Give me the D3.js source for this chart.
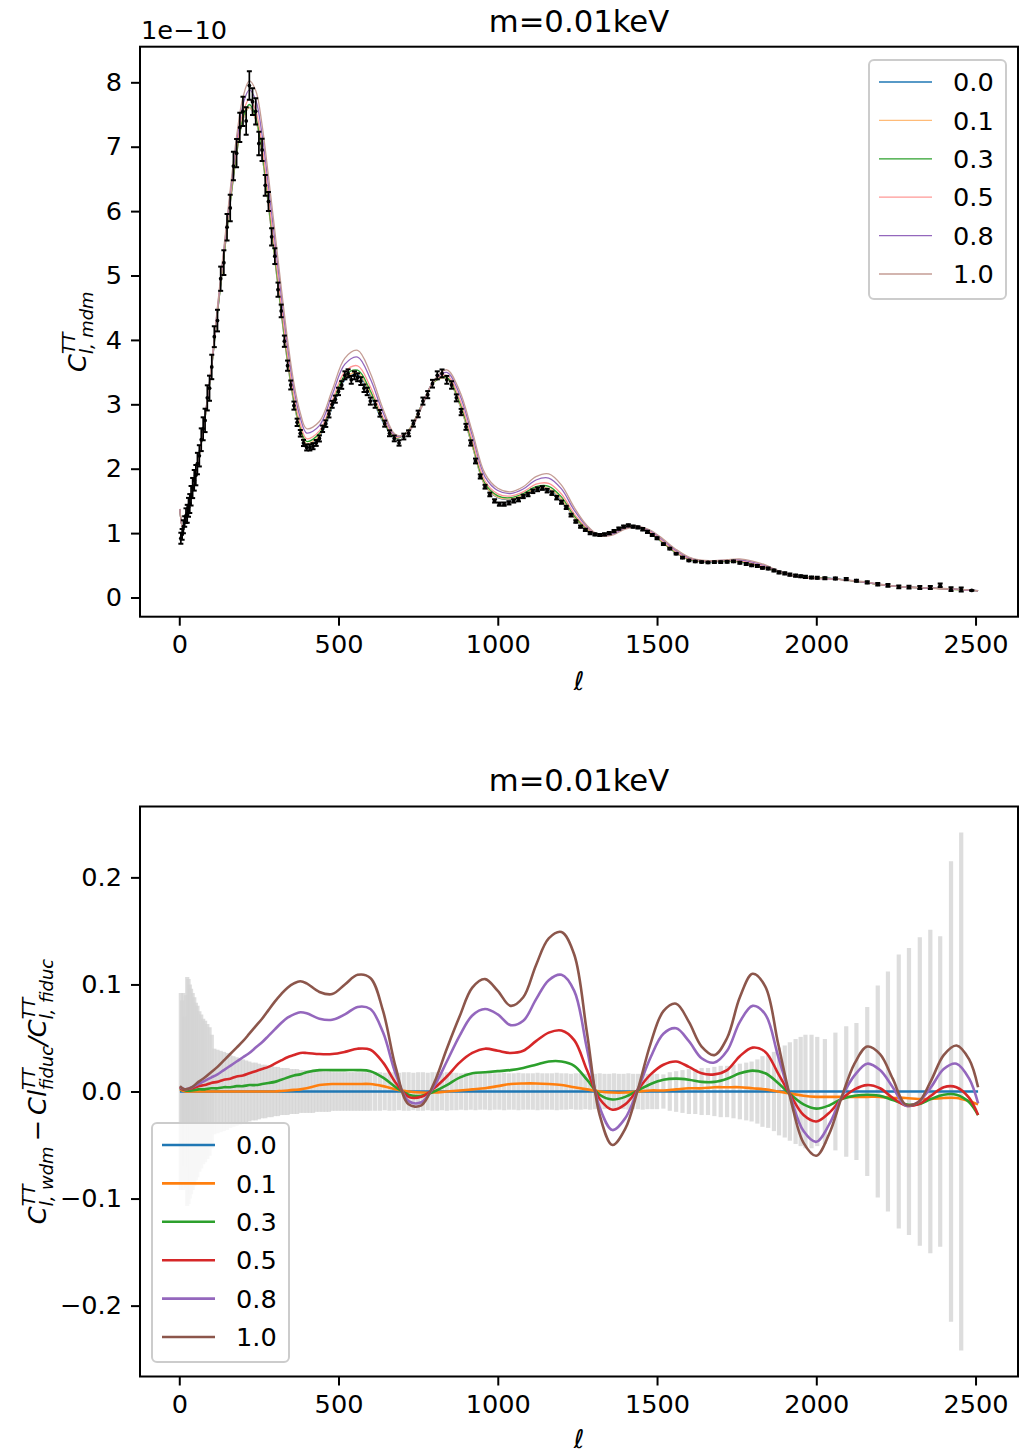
<!DOCTYPE html>
<html>
<head>
<meta charset="utf-8">
<script src="https://cdn.jsdelivr.net/npm/d3@7"></script>
<style>
body{margin:0;background:#fff;}
svg text{font-family:"DejaVu Sans",sans-serif;fill:#000;}
</style>
</head>
<body>
<div id="chart"></div>
<script>
// multipole grid for the model curves
var ells=[2,10,20,40,60,80,100,120,140,160,180,200,220,240,260,280,300,320,340,360,380,400,
  440,480,520,560,600,640,680,720,760,800,840,880,920,960,1000,1040,1080,1120,1160,1200,
  1240,1280,1320,1360,1400,1440,1480,1520,1560,1600,1640,1680,1720,1760,1800,1840,1880,1920,1960,2000,
  2040,2080,2120,2160,2200,2240,2280,2320,2360,2400,2440,2480,2508];

// fiducial C_l^TT (units of 1e-10)
var baseCl=[1.37,1.09,1.25,1.62,2.12,2.75,3.50,4.42,5.28,6.12,6.88,7.42,7.61,7.42,6.87,6.08,5.25,4.42,3.65,3.02,2.60,2.38,
  2.50,2.95,3.38,3.46,3.15,2.72,2.47,2.60,2.98,3.35,3.40,3.00,2.35,1.74,1.55,1.52,1.58,1.68,1.68,1.52,
  1.24,1.06,0.98,1.02,1.10,1.10,1.00,0.84,0.69,0.59,0.555,0.555,0.56,0.55,0.51,0.46,0.40,0.35,0.32,0.31,
  0.30,0.28,0.255,0.23,0.20,0.18,0.165,0.155,0.145,0.135,0.125,0.115,0.105];

// relative difference to fiducial, one list per fraction
var ratio00=[0,0,0,0,0,0,0,0,0,0,0,0,0,0,0,0,0,0,0,0,0,0,
  0,0,0,0,0,0,0,0,0,0,0,0,0,0,0,0,0,0,0,0,
  0,0,0,0,0,0,0,0,0,0,0,0,0,0,0,0,0,0,0,0,
  0,0,0,0,0,0,0,0,0,0,0,0,0];
var ratio01=[0.002,0.001,0,0,0,0,0,0,0,0,0,0,0,0,0,0,0,0.0005,0.001,0.0015,0.002,0.003,
  0.006,0.007,0.007,0.007,0.007,0.005,0.002,0.000,-0.001,-0.001,0.000,0.001,0.002,0.003,0.005,0.007,0.0075,0.0075,0.007,0.006,
  0.004,0.002,0.000,-0.001,-0.001,0.000,0.001,0.001,0.002,0.003,0.003,0.004,0.004,0.004,0.003,0.002,0.000,-0.002,-0.004,-0.005,
  -0.005,-0.005,-0.005,-0.005,-0.005,-0.006,-0.006,-0.007,-0.007,-0.006,-0.006,-0.009,-0.012];
var ratio03=[0.003,0.002,0.001,0.001,0.002,0.002,0.003,0.003,0.004,0.004,0.005,0.005,0.006,0.006,0.007,0.008,0.009,0.011,0.013,0.015,0.016,0.018,
  0.020,0.020,0.020,0.020,0.019,0.013,0.004,-0.003,-0.004,0.000,0.006,0.013,0.017,0.018,0.019,0.020,0.022,0.025,0.028,0.028,
  0.024,0.011,-0.003,-0.0075,-0.005,0.001,0.007,0.011,0.012,0.011,0.009,0.009,0.012,0.017,0.0195,0.017,0.008,-0.003,-0.012,-0.016,
  -0.013,-0.007,-0.004,-0.003,-0.004,-0.008,-0.012,-0.012,-0.007,-0.003,-0.003,-0.010,-0.022];
var ratio05=[0.004,0.002,0.002,0.003,0.005,0.006,0.008,0.009,0.011,0.012,0.014,0.015,0.017,0.019,0.021,0.023,0.026,0.029,0.032,0.034,0.036,0.036,
  0.035,0.035,0.037,0.040,0.039,0.027,0.008,-0.005,-0.005,0.003,0.014,0.027,0.036,0.040,0.038,0.036,0.038,0.047,0.055,0.057,
  0.048,0.020,-0.007,-0.017,-0.012,0.002,0.016,0.025,0.028,0.023,0.017,0.016,0.020,0.033,0.041,0.037,0.017,-0.004,-0.022,-0.028,
  -0.020,-0.007,0.002,0.006,0.003,-0.006,-0.013,-0.012,-0.004,0.004,0.004,-0.006,-0.022];
var ratio08=[0.004,0.003,0.002,0.004,0.007,0.010,0.013,0.016,0.020,0.024,0.028,0.032,0.036,0.041,0.046,0.052,0.058,0.064,0.069,0.072,0.074,0.073,
  0.068,0.067,0.072,0.079,0.077,0.055,0.016,-0.009,-0.010,0.005,0.028,0.052,0.071,0.077,0.072,0.062,0.066,0.086,0.104,0.109,
  0.094,0.040,-0.015,-0.036,-0.025,0.002,0.032,0.054,0.059,0.047,0.031,0.027,0.038,0.065,0.080,0.072,0.033,-0.006,-0.037,-0.047,
  -0.031,-0.005,0.015,0.026,0.020,0.004,-0.013,-0.010,0.004,0.021,0.026,0.012,-0.011];
var ratio10=[0.005,0.003,0.002,0.004,0.009,0.013,0.018,0.023,0.029,0.035,0.041,0.047,0.054,0.061,0.068,0.076,0.084,0.091,0.097,0.101,0.103,0.101,
  0.093,0.091,0.100,0.109,0.106,0.075,0.022,-0.012,-0.013,0.008,0.040,0.070,0.097,0.105,0.094,0.080,0.088,0.118,0.143,0.149,
  0.128,0.055,-0.022,-0.050,-0.035,0.002,0.045,0.075,0.082,0.065,0.042,0.034,0.050,0.088,0.110,0.098,0.045,-0.008,-0.048,-0.060,
  -0.040,-0.005,0.026,0.042,0.035,0.012,-0.012,-0.010,0.010,0.034,0.043,0.030,0.004];

// binned measurements: multipole, C_l (1e-10), relative error
var dataL=[5,9,13,17,21,25,29,33,37,42,47,52,57,63,69,75,81,88,95,102,
  110,120,130,140,150,160,170,180,190,200,210,220,230,240,250,260,270,280,290,300,
  310,320,330,340,350,360,370,380,390,400,410,420,430,440,450,460,470,480,490,500,
  510,520,530,540,550,560,570,580,590,600,
  615,630,645,660,675,690,705,720,735,750,765,780,795,810,825,840,855,870,885,900,
  915,930,945,960,975,990,1005,1020,1035,1050,1065,1080,1095,1110,1125,1140,1155,1170,1185,1200,
  1215,1230,1245,1260,1275,1290,1305,1320,1335,1350,1365,1380,1395,1410,1425,1440,1455,1470,1485,1500,
  1520,1540,1560,1580,1600,1620,1640,1660,1680,1700,1720,1740,1760,1780,1797,1815,1831,1849,1867,1883,
  1901,1917,1935,1951,1966,1985,2003,
  2027,2060,2094,2126,2160,2193,2225,2259,2291,2325,2358,2389,2423,2455,2488];
var dataY=[0.92,0.98,1.10,1.18,1.27,1.30,1.40,1.46,1.58,1.70,1.82,1.90,2.08,2.20,2.45,2.62,2.75,3.10,3.25,3.58,
  4.05,4.30,4.95,5.20,5.75,6.05,6.70,6.90,7.30,7.55,7.40,7.95,7.70,7.55,7.05,6.95,6.40,6.15,5.60,5.30,
  4.78,4.45,3.98,3.60,3.30,2.98,2.72,2.55,2.40,2.33,2.33,2.35,2.40,2.47,2.62,2.70,2.85,3.00,3.08,3.20,
  3.30,3.45,3.48,3.38,3.45,3.42,3.36,3.25,3.20,3.05,
  3.00,2.86,2.70,2.55,2.47,2.40,2.50,2.55,2.70,2.85,3.05,3.15,3.32,3.45,3.48,3.38,3.30,3.10,2.88,2.65,
  2.40,2.12,1.88,1.72,1.60,1.50,1.45,1.45,1.47,1.50,1.52,1.57,1.60,1.65,1.68,1.70,1.66,1.62,1.55,1.48,
  1.40,1.28,1.18,1.10,1.05,1.00,0.98,0.97,0.98,1.00,1.03,1.07,1.10,1.12,1.10,1.09,1.06,1.02,0.97,0.92,
  0.83,0.76,0.68,0.62,0.575,0.56,0.55,0.545,0.55,0.55,0.555,0.56,0.54,0.52,0.50,0.49,0.46,0.45,0.42,0.39,
  0.375,0.355,0.34,0.33,0.32,0.31,0.305,
  0.30,0.295,0.285,0.26,0.235,0.205,0.19,0.165,0.16,0.155,0.155,0.19,0.13,0.125,0.11];
var relErr=[0.092,0.085,0.092,0.070,0.090,0.107,0.105,0.100,0.096,0.092,0.088,0.083,0.080,0.075,0.072,0.068,0.066,0.063,0.060,0.053,
  0.040,0.039,0.038,0.037,0.036,0.034,0.033,0.032,0.031,0.030,0.029,0.028,0.027,0.027,0.026,0.025,0.025,0.024,0.024,0.023,
  0.023,0.022,0.022,0.022,0.021,0.021,0.021,0.020,0.020,0.020,0.020,0.020,0.019,0.019,0.019,0.019,0.019,0.018,0.018,0.018,
  0.018,0.018,0.018,0.018,0.018,0.018,0.018,0.018,0.018,0.018,
  0.018,0.018,0.0175,0.018,0.018,0.0175,0.018,0.018,0.0175,0.018,0.018,0.0175,0.018,0.018,0.0175,0.018,0.0175,0.0175,0.017,0.0175,
  0.017,0.0175,0.017,0.017,0.0175,0.017,0.017,0.0175,0.017,0.017,0.0175,0.017,0.017,0.017,0.0175,0.017,0.017,0.017,0.0175,0.017,
  0.017,0.0165,0.017,0.017,0.0165,0.017,0.0165,0.017,0.0165,0.0165,0.017,0.0165,0.0165,0.017,0.0165,0.0165,0.017,0.0165,0.0165,0.0165,
  0.016,0.018,0.019,0.020,0.021,0.021,0.022,0.022,0.023,0.024,0.024,0.025,0.026,0.027,0.028,0.030,0.033,0.034,0.037,0.041,
  0.043,0.046,0.049,0.051,0.053,0.053,0.051,
  0.049,0.055,0.061,0.064,0.079,0.099,0.112,0.128,0.134,0.144,0.151,0.145,0.215,0.242,null];

var fracLabels=['0.0','0.1','0.3','0.5','0.8','1.0'];
var topColors=['#1f77b4','#ffbb78','#2ca02c','#ff9896','#9467bd','#c49c94'];
var botColors=['#1f77b4','#ff7f0e','#2ca02c','#d62728','#9467bd','#8c564b'];
var xTicks=[0,500,1000,1500,2000,2500];
var yTicksTop=[0,1,2,3,4,5,6,7,8];
var yTicksBot=[-0.2,-0.1,0.0,0.1,0.2];

var ratios=[ratio00,ratio01,ratio03,ratio05,ratio08,ratio10];
var FS=25.6;
var L=140,R=1018;
var T1=46.7,B1=616.7,T2=806.5,B2=1376.5;

var svg=d3.select('#chart').append('svg').attr('width',1019).attr('height',1455);

var x=d3.scaleLinear().domain([-123.3,2633.3]).range([L,R]);
var y1=d3.scaleLinear().domain([-0.298,8.553]).range([B1,T1]);
var y2=d3.scaleLinear().domain([-0.2662,0.2662]).range([B2,T2]);

var defs=svg.append('defs');
defs.append('clipPath').attr('id','c1').append('rect').attr('x',L).attr('y',T1).attr('width',R-L).attr('height',B1-T1);
defs.append('clipPath').attr('id','c2').append('rect').attr('x',L).attr('y',T2).attr('width',R-L).attr('height',B2-T2);

// ---------- top panel ----------
var p1=svg.append('g').attr('clip-path','url(#c1)');
var line1=d3.line().x(function(d){return x(d[0]);}).y(function(d){return y1(d[1]);}).curve(d3.curveCatmullRom.alpha(0.5));
ratios.forEach(function(r,k){
    var pts=ells.map(function(l,i){return [l,baseCl[i]*(1+r[i])];});
    p1.append('path').datum(pts).attr('d',line1)
        .attr('fill','none').attr('stroke',topColors[k]).attr('stroke-width',1.3);
});

var pts=dataL.map(function(l,i){return {l:l,v:dataY[i],e:(relErr[i]||0)*dataY[i]};});
var eb=p1.selectAll('.eb').data(pts).enter().append('g').attr('class','eb');
eb.append('line')
    .attr('x1',function(d){return x(d.l);}).attr('x2',function(d){return x(d.l);})
    .attr('y1',function(d){return y1(d.v-d.e);}).attr('y2',function(d){return y1(d.v+d.e);})
    .attr('stroke','#000').attr('stroke-width',1.7);
[-1,1].forEach(function(s){
    eb.append('line')
        .attr('x1',function(d){return x(d.l)-2.5;}).attr('x2',function(d){return x(d.l)+2.5;})
        .attr('y1',function(d){return y1(d.v+s*d.e);}).attr('y2',function(d){return y1(d.v+s*d.e);})
        .attr('stroke','#000').attr('stroke-width',2);
});
eb.append('circle').attr('cx',function(d){return x(d.l);}).attr('cy',function(d){return y1(d.v);})
    .attr('r',1.9).attr('fill','#000');

// ---------- bottom panel ----------
var p2=svg.append('g').attr('clip-path','url(#c2)');
p2.selectAll('.bar').data(pts.filter(function(d,i){return relErr[i]!==null;})).enter().append('line')
    .attr('class','bar')
    .attr('x1',function(d){return x(d.l);}).attr('x2',function(d){return x(d.l);})
    .attr('y1',function(d){return y2(-d.e/d.v);}).attr('y2',function(d){return y2(d.e/d.v);})
    .attr('stroke','#d3d3d3').attr('stroke-opacity',0.78).attr('stroke-width',4.2);

var line2=d3.line().x(function(d){return x(d[0]);}).y(function(d){return y2(d[1]);}).curve(d3.curveCatmullRom.alpha(0.5));
ratios.forEach(function(r,k){
    var pts2=ells.map(function(l,i){return [l,r[i]];});
    p2.append('path').datum(pts2).attr('d',line2)
        .attr('fill','none').attr('stroke',botColors[k]).attr('stroke-width',2.6);
});

// ---------- axes ----------
function styleAxis(g){
    g.select('.domain').remove();
    g.selectAll('.tick line').attr('stroke','#000').attr('stroke-width',2);
    g.selectAll('.tick text').style('font-size',FS+'px').attr('fill','#000');
}
function frame(t,b){
    svg.append('rect').attr('x',L).attr('y',t).attr('width',R-L).attr('height',b-t)
        .attr('fill','none').attr('stroke','#000').attr('stroke-width',2);
}
[[B1,y1,yTicksTop,d3.format('d')],[B2,y2,yTicksBot,d3.format('.1f')]].forEach(function(a){
    var gx=svg.append('g').attr('transform','translate(0,'+a[0]+')')
        .call(d3.axisBottom(x).tickValues(xTicks).tickSize(9).tickPadding(9).tickFormat(d3.format('d')));
    styleAxis(gx);
    var gy=svg.append('g').attr('transform','translate('+L+',0)')
        .call(d3.axisLeft(a[1]).tickValues(a[2]).tickSize(9).tickPadding(9).tickFormat(a[3]));
    styleAxis(gy);
});
frame(T1,B1);
frame(T2,B2);

// titles, offset text, x labels
svg.append('text').attr('x',(L+R)/2).attr('y',31.5).attr('text-anchor','middle').style('font-size','30.7px').text('m=0.01keV');
svg.append('text').attr('x',(L+R)/2).attr('y',791).attr('text-anchor','middle').style('font-size','30.7px').text('m=0.01keV');
svg.append('text').attr('x',141).attr('y',39).style('font-size',FS+'px').text('1e\u221210');
svg.append('text').attr('x',(L+R)/2).attr('y',690).attr('text-anchor','middle').style('font-size',FS+'px').style('font-style','italic').text('\u2113');
svg.append('text').attr('x',(L+R)/2).attr('y',1448).attr('text-anchor','middle').style('font-size',FS+'px').style('font-style','italic').text('\u2113');

// mathtext-like rotated y labels
function mathLabel(cx,cy,tokens){
    var g=svg.append('g').attr('transform','translate('+cx+','+cy+') rotate(-90)');
    var pos=0;
    tokens.forEach(function(tk){
        if(tk.gap!==undefined){
            pos+=tk.gap;
        }else if(tk.sup===undefined){
            var t=g.append('text').attr('x',pos).attr('y',0).style('font-size',FS+'px')
                .style('font-style',tk.up?'normal':'italic').text(tk.t);
            pos+=t.node().getComputedTextLength();
        }else{
            var s=g.append('text').attr('x',pos).attr('y',-0.42*FS).style('font-size',(FS*0.7)+'px').style('font-style','italic').text(tk.sup);
            var b=g.append('text').attr('x',pos).attr('y',0.26*FS).style('font-size',(FS*0.7)+'px').style('font-style','italic').text(tk.sub);
            pos+=Math.max(s.node().getComputedTextLength(),b.node().getComputedTextLength());
        }
    });
    g.selectAll('text').attr('x',function(){return +d3.select(this).attr('x')-pos/2;});
}
mathLabel(86,(T1+B1)/2,[{t:'C'},{sup:'TT',sub:'l, mdm'}]);
mathLabel(46,(T2+B2)/2,[{t:'C'},{sup:'TT',sub:'l, wdm'},{gap:5},{t:'\u2212',up:true},{gap:5},{t:'Cl'},{sup:'TT',sub:'fiduc'},{t:'/'},{t:'C'},{sup:'TT',sub:'l, fiduc'}]);

// legends
function legend(bx,by,colors,lw){
    var g=svg.append('g');
    g.append('rect').attr('x',bx).attr('y',by).attr('width',137).attr('height',239).attr('rx',5)
        .attr('fill','#fff').attr('fill-opacity',0.8).attr('stroke','#cccccc').attr('stroke-width',2);
    fracLabels.forEach(function(lab,i){
        var yy=by+22+i*38.4;
        g.append('line').attr('x1',bx+10).attr('x2',bx+63).attr('y1',yy).attr('y2',yy)
            .attr('stroke',colors[i]).attr('stroke-width',lw);
        g.append('text').attr('x',bx+84).attr('y',yy).attr('dy','0.36em').style('font-size',FS+'px').text(lab);
    });
}
legend(869,60,topColors,1.3);
legend(152,1123,botColors,2.6);
</script>
</body>
</html>
